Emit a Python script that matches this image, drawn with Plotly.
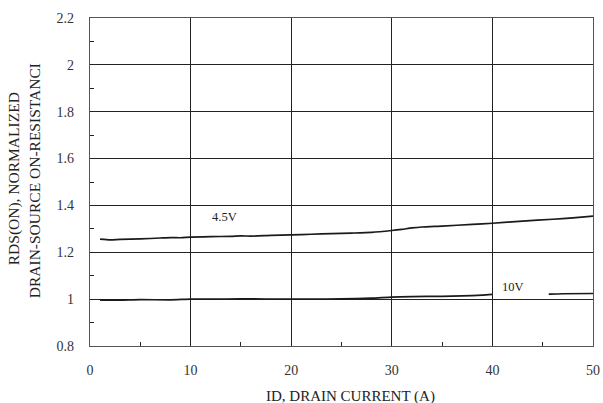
import plotly.graph_objects as go

# 4.5 V curve
x_45 = [1, 2, 3, 5, 7, 8, 9, 10, 12, 14, 15, 16, 18, 20, 22, 24, 26, 28, 30, 31, 32, 33, 35, 38, 40, 43, 46, 48, 50]
y_45 = [1.256, 1.253, 1.255, 1.257, 1.261, 1.263, 1.262, 1.265, 1.267, 1.268, 1.270, 1.269, 1.272, 1.274, 1.277, 1.280, 1.282, 1.285, 1.293, 1.298, 1.304, 1.308, 1.312, 1.319, 1.324, 1.333, 1.341, 1.347, 1.354]

# 10 V curve (gap where label sits)
x_10 = [1, 3, 5, 8, 10, 12, 15, 20, 22, 25, 28, 30, 32, 35, 37, 39, 40, None, 45.6, 47, 50]
y_10 = [0.996, 0.996, 0.998, 0.997, 1.0, 1.0, 1.001, 1.0, 1.0, 1.001, 1.004, 1.009, 1.011, 1.012, 1.014, 1.017, 1.020, None, 1.021, 1.023, 1.024]

labels = ["4.5V", "10V"]
label_x = [13.4, 42.0]
label_y = [1.352, 1.05]

x_ticks = [0, 10, 20, 30, 40, 50]
y_ticks = [0.8, 1, 1.2, 1.4, 1.6, 1.8, 2, 2.2]

FONT = "Liberation Serif"

fig = go.Figure()
fig.add_trace(go.Scatter(x=x_45, y=y_45, mode="lines", line=dict(color="#1a1a1a", width=1.7, shape="spline", smoothing=0.6), showlegend=False, hoverinfo="skip"))
fig.add_trace(go.Scatter(x=x_10, y=y_10, mode="lines", line=dict(color="#1a1a1a", width=1.7, shape="spline", smoothing=0.6), showlegend=False, hoverinfo="skip", connectgaps=False))

for t, lx, ly in zip(labels, label_x, label_y):
    fig.add_annotation(x=lx, y=ly, text=t, showarrow=False, font=dict(family=FONT, size=12.5, color="#222"))

axis_common = dict(showline=True, linecolor="#555", linewidth=1.2, mirror=True,
                   showgrid=True, gridcolor="#222", gridwidth=1, zeroline=False, automargin=False,
                   ticks="", tickfont=dict(family=FONT, size=14, color="#333"))

fig.update_xaxes(range=[0, 50], tickvals=x_ticks, ticktext=[str(v) for v in x_ticks],
                 minor=dict(ticks="inside", ticklen=4, tickvals=[5, 15, 25, 35, 45], tickcolor="#222", showgrid=False),
                 ticklabelstandoff=11, **axis_common)
fig.update_yaxes(range=[0.8, 2.2], tickvals=y_ticks, ticktext=[("%g" % v) for v in y_ticks],
                 minor=dict(ticks="inside", ticklen=4, tickvals=[0.9, 1.1, 1.3, 1.5, 1.7, 1.9, 2.1], tickcolor="#222", showgrid=False),
                 ticklabelstandoff=12, **axis_common)

PW, PH = 503, 328.5
fig.add_annotation(xref="paper", yref="paper", x=(350 - 90) / PW, y=(346 - 397) / PH,
                   xanchor="center", yanchor="middle",
                   text="ID, DRAIN CURRENT (A)", showarrow=False,
                   font=dict(family=FONT, size=15, color="#222"))
fig.add_annotation(xref="paper", yref="paper", x=(14 - 90) / PW, y=(346 - 179) / PH,
                   xanchor="center", yanchor="middle",
                   text="RDS(ON), NORMALIZED", showarrow=False, textangle=-90,
                   font=dict(family=FONT, size=15.5, color="#222"))
fig.add_annotation(xref="paper", yref="paper", x=(34 - 90) / PW, y=(346 - 181) / PH,
                   xanchor="center", yanchor="middle",
                   text="DRAIN-SOURCE ON-RESISTANCI", showarrow=False, textangle=-90,
                   font=dict(family=FONT, size=15.5, color="#222"))

# full window figure; page body margin removed so the plot lands at page coordinates
fig.update_layout(width=603, height=403, margin=dict(l=90, r=10, t=17.5, b=57),
                  font=dict(family=FONT, color="#222"),
                  paper_bgcolor="white", plot_bgcolor="white")

fig.write_html("out.html", config={"displayModeBar": False},
               post_script="document.body.style.margin='0';document.body.style.overflow='hidden';")
